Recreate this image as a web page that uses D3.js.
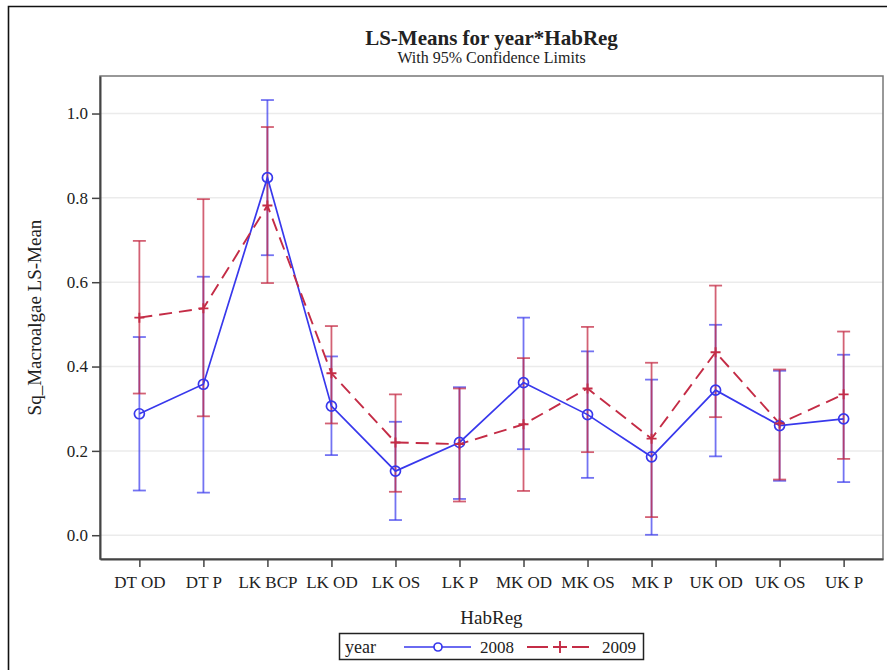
<!DOCTYPE html>
<meta charset="utf-8">
<style>
body{ margin:0; background:#fff; }
text{ font-family:"Liberation Serif", "Times New Roman", serif; fill:#222; }
</style>
<body>
<script src="https://cdn.jsdelivr.net/npm/d3@7"></script>
<script>

// categories and values (LS-means with 95% limits)
var habReg = ["DT OD","DT P","LK BCP","LK OD","LK OS","LK P","MK OD","MK OS","MK P","UK OD","UK OS","UK P"];
var mean2008  = [0.288,0.358,0.848,0.306,0.152,0.220,0.362,0.286,0.186,0.344,0.260,0.276];
var lower2008 = [0.106,0.101,0.664,0.190,0.036,0.086,0.204,0.136,0.001,0.187,0.129,0.126];
var upper2008 = [0.470,0.613,1.032,0.424,0.269,0.351,0.516,0.436,0.369,0.499,0.390,0.428];
var mean2009  = [0.516,0.538,0.782,0.384,0.220,0.216,0.263,0.348,0.229,0.434,0.265,0.334];
var lower2009 = [0.336,0.282,0.598,0.265,0.103,0.080,0.105,0.197,0.043,0.280,0.132,0.181];
var upper2009 = [0.698,0.797,0.968,0.496,0.334,0.348,0.420,0.494,0.409,0.592,0.393,0.483];
var yTicks = [0.0,0.2,0.4,0.6,0.8,1.0];

var width = 887, height = 670;
var pLeft = 100, pRight = 883, pTop = 76, pBottom = 559;

var blue = "#3838ec", red = "#c42c46";

var svg = d3.select("body").append("svg")
    .attr("width", width)
    .attr("height", height);

// outer frame (runs off the right/bottom edge like the picture)
svg.append("path")
    .attr("d", "M8.5," + (height + 5) + "V6.5H" + (width + 5))
    .attr("fill", "none").attr("stroke", "#111").attr("stroke-width", 1.6);

var x = d3.scalePoint().domain(habReg).range([pLeft, pRight]).padding(0.615);
var y = d3.scaleLinear().domain([-0.0564, 1.089]).range([pBottom, pTop]);

// gridlines
svg.append("g").selectAll("line").data(yTicks).enter().append("line")
    .attr("x1", pLeft).attr("x2", pRight)
    .attr("y1", function(d){ return y(d); }).attr("y2", function(d){ return y(d); })
    .attr("stroke", "#ebebeb").attr("stroke-width", 1.5);

// plot frame
svg.append("rect")
    .attr("x", pLeft).attr("y", pTop)
    .attr("width", pRight - pLeft).attr("height", pBottom - pTop)
    .attr("fill", "none").attr("stroke", "#777").attr("stroke-width", 1.5);

// axes
var yAxis = svg.append("g").attr("transform", "translate(" + pLeft + ",0)")
    .call(d3.axisLeft(y).tickValues(yTicks).tickFormat(d3.format(".1f"))
      .tickSizeInner(8).tickSizeOuter(0).tickPadding(4));
var xAxis = svg.append("g").attr("transform", "translate(0," + pBottom + ")")
    .call(d3.axisBottom(x).tickSizeInner(8).tickSizeOuter(0).tickPadding(9));
[yAxis, xAxis].forEach(function(a){
  a.select(".domain").attr("stroke", "#444").attr("stroke-width", 2);
  a.selectAll(".tick line").attr("stroke", "#444").attr("stroke-width", 1.5);
  a.selectAll(".tick text").attr("font-size", 17).attr("fill", "#222")
    .style("font-family", "Liberation Serif");
});

// error bars
function errorBars(lo, hi, color, op) {
  var g = svg.append("g").attr("stroke", color).attr("stroke-opacity", op).attr("stroke-width", 1.8);
  habReg.forEach(function(c, i) {
    var cx = x(c);
    g.append("line").attr("x1", cx).attr("x2", cx).attr("y1", y(lo[i])).attr("y2", y(hi[i]));
    g.append("line").attr("x1", cx - 6.5).attr("x2", cx + 6.5).attr("y1", y(lo[i])).attr("y2", y(lo[i]));
    g.append("line").attr("x1", cx - 6.5).attr("x2", cx + 6.5).attr("y1", y(hi[i])).attr("y2", y(hi[i]));
  });
}
errorBars(lower2008, upper2008, blue, 0.7);
errorBars(lower2009, upper2009, red, 0.75);

var line = d3.line()
    .x(function(d, i){ return x(habReg[i]); })
    .y(function(d){ return y(d); });

svg.append("path").datum(mean2008).attr("d", line)
    .attr("fill", "none").attr("stroke", blue).attr("stroke-width", 1.7);
svg.append("path").datum(mean2009).attr("d", line)
    .attr("fill", "none").attr("stroke", red).attr("stroke-width", 1.9)
    .attr("stroke-dasharray", "13,7");

// markers
svg.append("g").selectAll("circle").data(mean2008).enter().append("circle")
    .attr("cx", function(d, i){ return x(habReg[i]); })
    .attr("cy", function(d){ return y(d); })
    .attr("r", 5).attr("fill", "none").attr("stroke", blue).attr("stroke-width", 1.7);
svg.append("g").selectAll("path").data(mean2009).enter().append("path")
    .attr("d", function(d, i){
      var cx = x(habReg[i]), cy = y(d);
      return "M" + (cx - 5) + "," + cy + "H" + (cx + 5) + "M" + cx + "," + (cy - 5) + "V" + (cy + 5);
    })
    .attr("stroke", red).attr("stroke-width", 1.9);

// titles
var midX = (pLeft + pRight) / 2;
svg.append("text").attr("x", midX).attr("y", 45).attr("text-anchor", "middle")
    .attr("font-size", 21).attr("font-weight", "bold").text("LS-Means for year*HabReg");
svg.append("text").attr("x", midX).attr("y", 63).attr("text-anchor", "middle")
    .attr("font-size", 16).text("With 95% Confidence Limits");
svg.append("text").attr("x", midX).attr("y", 624).attr("text-anchor", "middle")
    .attr("font-size", 19).text("HabReg");
svg.append("text").attr("transform", "translate(41," + ((pTop + pBottom) / 2) + ") rotate(-90)")
    .attr("text-anchor", "middle").attr("font-size", 19).text("Sq_Macroalgae LS-Mean");

// legend
var leg = svg.append("g");
leg.append("rect").attr("x", 339.5).attr("y", 633.5).attr("width", 304).attr("height", 26)
    .attr("fill", "#fff").attr("stroke", "#222").attr("stroke-width", 1.5);
leg.append("text").attr("x", 345).attr("y", 653).attr("font-size", 18).text("year");
leg.append("line").attr("x1", 404).attr("x2", 471).attr("y1", 647).attr("y2", 647)
    .attr("stroke", blue).attr("stroke-width", 1.7);
leg.append("circle").attr("cx", 438).attr("cy", 647).attr("r", 4)
    .attr("fill", "#fff").attr("stroke", blue).attr("stroke-width", 1.7);
leg.append("text").attr("x", 480).attr("y", 653).attr("font-size", 17).text("2008");
leg.append("path").attr("d", "M527,647H548M553,647H567M572,647H589")
    .attr("stroke", red).attr("stroke-width", 1.9);
leg.append("path").attr("d", "M560,641V653")
    .attr("stroke", red).attr("stroke-width", 1.9);
leg.append("text").attr("x", 602).attr("y", 653).attr("font-size", 17).text("2009");

</script>
</body>
